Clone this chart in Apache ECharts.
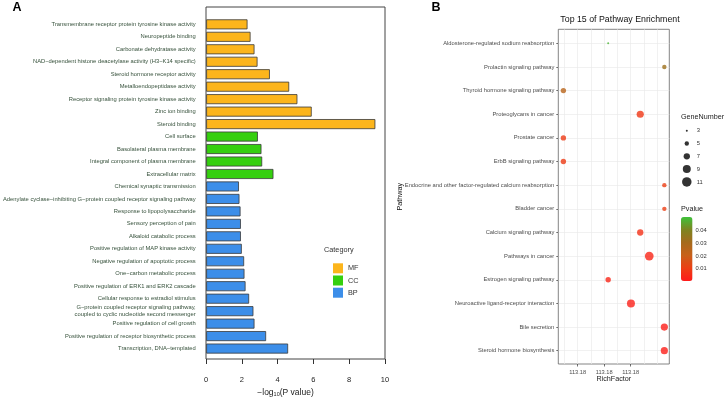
<!DOCTYPE html>
<html>
<head>
<meta charset="utf-8">
<script src="https://cdn.jsdelivr.net/npm/echarts@6/dist/echarts.min.js"></script>
<style>html,body{margin:0;background:#fff}#chart{width:726px;height:400px}</style>
</head>
<body>
<div id="chart"></div>
<script>
// panel A: GO terms
const goTerms = [
  "Transmembrane receptor protein tyrosine kinase activity",
  "Neuropeptide binding",
  "Carbonate dehydratase activity",
  "NAD−dependent histone deacetylase activity (H3−K14 specific)",
  "Steroid hormone receptor activity",
  "Metalloendopeptidase activity",
  "Receptor signaling protein tyrosine kinase activity",
  "Zinc ion binding",
  "Steroid binding",
  "Cell surface",
  "Basolateral plasma membrane",
  "Integral component of plasma membrane",
  "Extracellular matrix",
  "Chemical synaptic transmission",
  "Adenylate cyclase−inhibiting G−protein coupled receptor signaling pathway",
  "Response to lipopolysaccharide",
  "Sensory perception of pain",
  "Alkaloid catabolic process",
  "Positive regulation of MAP kinase activity",
  "Negative regulation of apoptotic process",
  "One−carbon metabolic process",
  "Positive regulation of ERK1 and ERK2 cascade",
  "Cellular response to estradiol stimulus",
  "G−protein coupled receptor signaling pathway,\ncoupled to cyclic nucleotide second messenger",
  "Positive regulation of cell growth",
  "Positive regulation of receptor biosynthetic process",
  "Transcription, DNA−templated",
];
const goGroup = ["MF","MF","MF","MF","MF","MF","MF","MF","MF","CC","CC","CC","CC",
  "BP","BP","BP","BP","BP","BP","BP","BP","BP","BP","BP","BP","BP","BP"];
const goLogP = [2.31, 2.48, 2.70, 2.87, 3.56, 4.64, 5.10, 5.90, 9.46, 2.89, 3.09, 3.13, 3.76,
  1.83, 1.86, 1.92, 1.94, 1.94, 1.99, 2.12, 2.14, 2.20, 2.40, 2.64, 2.70, 3.35, 4.58];
const groupNames = ["MF", "CC", "BP"];
const groupColors = { MF: "#FCB51C", CC: "#35CF0F", BP: "#3C8EE9" };

// panel B: KEGG pathways
const pathways = [
  "Aldosterone-regulated sodium reabsorption",
  "Prolactin signaling pathway",
  "Thyroid hormone signaling pathway",
  "Proteoglycans in cancer",
  "Prostate cancer",
  "ErbB signaling pathway",
  "Endocrine and other factor-regulated calcium reabsorption",
  "Bladder cancer",
  "Calcium signaling pathway",
  "Pathways in cancer",
  "Estrogen signaling pathway",
  "Neuroactive ligand-receptor interaction",
  "Bile secretion",
  "Steroid hormone biosynthesis",
];
// rich factor in tick units (ticks 1,2,3 are all printed as 113.18)
const richFactor = [2.15, 4.27, 0.46, 3.36, 0.46, 0.46, 4.27, 4.27, 3.36, 3.70, 2.15, 3.01, 4.27, 4.27];
const pValues = [0.049, 0.033, 0.025, 0.008, 0.009, 0.009, 0.010, 0.010, 0.006, 0.003, 0.003, 0.002, 0.001, 0.001];
const geneNumbers = [3, 5, 6, 8, 6, 6, 5, 5, 7, 10, 6, 9, 8, 8];
const richTicks = [1, 2, 3];
const richTickLabel = "113.18";
const geneLegend = [3, 5, 7, 9, 11];
const pTicks = [0.01, 0.02, 0.03, 0.04];
const pMax = 0.051;

const font = "Liberation Sans";
const geneSize = (n) => 2 + (Math.sqrt(n) - Math.sqrt(3)) / (Math.sqrt(11) - Math.sqrt(3)) * 7.5;

const chart = echarts.init(document.getElementById("chart"), null, { renderer: "canvas" });

const barSeries = groupNames.map((g) => ({
  name: g, type: "bar", xAxisIndex: 1, yAxisIndex: 1, stack: "go", barWidth: 10,
  data: goLogP.map((v, i) => (goGroup[i] === g ? v : "-")),
  itemStyle: { color: groupColors[g], borderColor: "#3a3a3a", borderWidth: 0.8 },
  silent: true,
}));

const barTop = 217, barH = 64;
const pTickTexts = pTicks.map((t) => ({
  type: "text", x: 695.5, y: barTop + (pMax - t) / pMax * barH,
  style: { text: t.toFixed(2), fontSize: 5.8, fill: "#333", fontFamily: font, verticalAlign: "middle" },
}));

const hidden = { show: false };
chart.setOption({
  animation: false,
  textStyle: { fontFamily: font },
  grid: [
    { left: 206, top: 7, width: 179, height: 352, show: true, borderColor: "#444", borderWidth: 1 },
    { left: 206, top: 18.1, width: 179, height: 336.7 },
    { left: 558.3, top: 29.3, width: 111, height: 334.7, show: true, borderColor: "#666", borderWidth: 0.8 },
    { left: 558.3, top: 43.3, width: 111, height: 307.4 },
    { left: 564.3, top: 29.3, width: 105, height: 334.7 },
    { left: 577.7, top: 29.3, width: 53, height: 334.7 },
    { left: 680.3, top: 124.3, width: 13, height: 64 },
  ],
  xAxis: [
    { gridIndex: 0, type: "value", min: 0, max: 10, interval: 2,
      axisLine: { show: false }, axisTick: { length: 5, lineStyle: { color: "#333" } },
      axisLabel: { fontSize: 7.5, color: "#222", margin: 17 }, splitLine: hidden },
    { gridIndex: 1, type: "value", min: 0, max: 10, show: false },
    { gridIndex: 2, type: "value", min: 0, max: 1, axisLine: hidden, axisTick: hidden, axisLabel: hidden,
      splitLine: hidden, name: "RichFactor", nameLocation: "middle", nameGap: 12,
      nameTextStyle: { fontSize: 7.2, color: "#222" } },
    { gridIndex: 3, type: "value", min: 0.268, max: 4.457, show: false },
    { gridIndex: 4, type: "value", min: 0.5, max: 4.462, interval: 0.5, axisLine: hidden, axisTick: hidden,
      axisLabel: hidden, splitLine: { show: true, showMaxLine: false, lineStyle: { color: "#EBEBEB", width: 0.7 } } },
    { gridIndex: 5, type: "value", min: richTicks[0], max: richTicks[richTicks.length - 1], interval: 1,
      axisLine: hidden, splitLine: hidden,
      axisTick: { length: 2.5, lineStyle: { color: "#333", width: 0.7 } },
      axisLabel: { fontSize: 5.7, color: "#4d4d4d", margin: 5, formatter: () => richTickLabel } },
    { gridIndex: 6, type: "value", min: 0, max: 1, show: false },
  ],
  yAxis: [
    { gridIndex: 0, type: "value", show: false },
    { gridIndex: 1, type: "category", data: goTerms, inverse: true,
      axisLine: hidden, axisTick: { length: 5, alignWithLabel: true, lineStyle: { color: "#333" } },
      axisLabel: { fontSize: 5.8, color: "#35503A", margin: 10.5, interval: 0, lineHeight: 7 } },
    { gridIndex: 2, type: "value", axisLine: hidden, axisTick: hidden, axisLabel: hidden, splitLine: hidden,
      name: "Pathway", nameLocation: "middle", nameGap: 155, nameRotate: 90,
      nameTextStyle: { fontSize: 7.2, color: "#111" } },
    { gridIndex: 3, type: "value", min: 0, max: pathways.length - 1, interval: 1, inverse: true,
      axisLine: hidden, axisTick: { length: 2, lineStyle: { color: "#333", width: 0.7 } },
      axisLabel: { fontSize: 5.8, color: "#4d4d4d", margin: 4, showMinLabel: true, showMaxLabel: true,
        formatter: (v) => pathways[v] },
      splitLine: { show: true, lineStyle: { color: "#EBEBEB", width: 0.7 } } },
    { gridIndex: 4, type: "value", show: false },
    { gridIndex: 5, type: "value", show: false },
    { gridIndex: 6, type: "category", data: geneLegend.map(String), inverse: true, position: "right",
      axisLine: hidden, axisTick: hidden,
      axisLabel: { fontSize: 5.8, color: "#333", margin: 3.4 } },
  ],
  legend: {
    data: groupNames, orient: "vertical", left: 328, top: 258.3, itemWidth: 10, itemHeight: 10, itemGap: 2.2,
    icon: "rect", selectedMode: false, itemStyle: { borderWidth: 0 },
    textStyle: { fontSize: 7.3, color: "#333" },
  },
  visualMap: {
    type: "continuous", seriesIndex: 3, dimension: 2, min: 0, max: pMax, calculable: false,
    orient: "vertical", left: 681, top: barTop, itemWidth: 11.5, itemHeight: barH, padding: 0,
    hoverLink: false,
    inRange: { color: ["#FF1A1A", "#EC3F14", "#C8601A", "#A66A1C", "#7E8420", "#3EC23A"] },
  },
  series: [
    ...barSeries,
    { type: "scatter", xAxisIndex: 3, yAxisIndex: 3, silent: true, clip: false,
      data: pathways.map((p, i) => [richFactor[i], i, pValues[i], geneNumbers[i]]),
      symbolSize: (v) => geneSize(v[3]) },
    { type: "scatter", xAxisIndex: 6, yAxisIndex: 6, silent: true,
      data: geneLegend.map((g, i) => [0.5, i, g]),
      symbolSize: (v) => geneSize(v[2]), itemStyle: { color: "#000" } },
  ],
  graphic: [
    { type: "text", x: 12.5, y: 8, style: { text: "A", font: "bold 12.5px " + font, fill: "#000", verticalAlign: "middle" } },
    { type: "text", x: 431.5, y: 8, style: { text: "B", font: "bold 12.5px " + font, fill: "#000", verticalAlign: "middle" } },
    { type: "text", x: 620, y: 20, style: { text: "Top 15 of Pathway Enrichment", fontSize: 8.8, fontFamily: font,
      fill: "#111", align: "center", verticalAlign: "middle" } },
    { type: "text", x: 324, y: 250, style: { text: "Category", fontSize: 7.3, fontFamily: font, fill: "#333", verticalAlign: "middle" } },
    { type: "text", x: 681, y: 116.7, style: { text: "GeneNumber", fontSize: 7.2, fontFamily: font, fill: "#222", verticalAlign: "middle" } },
    { type: "text", x: 681, y: 209.3, style: { text: "Pvalue", fontSize: 7.2, fontFamily: font, fill: "#222", verticalAlign: "middle" } },
    { type: "text", x: 285.5, y: 393, style: { text: "−log{sub|10}(P value)", fontSize: 8.5, fontFamily: font, fill: "#222",
      align: "center", verticalAlign: "middle", rich: { sub: { fontSize: 5.5, fontFamily: font, verticalAlign: "bottom", fill: "#222" } } } },
    ...pTickTexts,
  ],
});
</script>
</body>
</html>
